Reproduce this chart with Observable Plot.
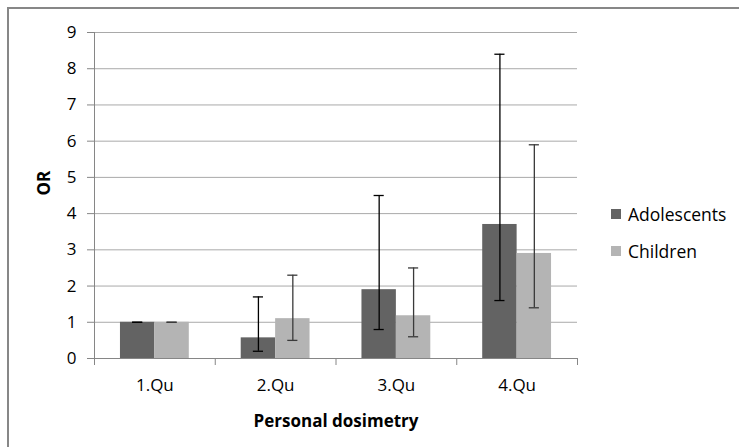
<!DOCTYPE html>
<html>
<head>
<meta charset="utf-8">
<script src="https://cdn.jsdelivr.net/npm/d3@7"></script>
<script src="https://cdn.jsdelivr.net/npm/@observablehq/plot@0.6"></script>
<style>
  html, body { margin: 0; padding: 0; background: #fff; }
  #wrap { position: relative; width: 739px; height: 447px; overflow: hidden; font-family: "Open Sans", sans-serif; }
  #frame { position: absolute; left: 7px; top: 7px; width: 800px; height: 500px; border: 2px solid #878787; box-sizing: border-box; }
  #chart { position: absolute; left: 0; top: 0; }
  #legend { position: absolute; left: 611px; top: 195px; font-size: 17.5px; color: #000; }
  .item { display: flex; align-items: center; height: 37px; }
  .sw { width: 10px; height: 10px; margin-right: 7px; }
</style>
</head>
<body>
<div id="wrap">
  <div id="frame"></div>
  <div id="chart"></div>
  <div id="legend"></div>
</div>
<script>
const categories = ["1.Qu", "2.Qu", "3.Qu", "4.Qu"];
const seriesNames = ["Adolescents", "Children"];
const seriesColors = ["#636363", "#b4b4b4"];
const adolescents = [1.0, 0.57, 1.9, 3.7];
const adolescentsLow = [1.0, 0.2, 0.8, 1.6];
const adolescentsHigh = [1.0, 1.7, 4.5, 8.4];
const children = [1.0, 1.1, 1.18, 2.9];
const childrenLow = [1.0, 0.5, 0.6, 1.4];
const childrenHigh = [1.0, 2.3, 2.5, 5.9];
const yTicks = [0, 1, 2, 3, 4, 5, 6, 7, 8, 9];

const data = categories.flatMap((c, i) => [
  {cat: c, i, k: 0, series: seriesNames[0], value: adolescents[i], low: adolescentsLow[i], high: adolescentsHigh[i]},
  {cat: c, i, k: 1, series: seriesNames[1], value: children[i], low: childrenLow[i], high: childrenHigh[i]}
]);

const groupStart = 0.215, barW = 0.285, capHalf = 0.042;
const left = d => d.i + groupStart + d.k * barW;
const right = d => d.i + groupStart + (d.k + 1) * barW;
const mid = d => d.i + groupStart + (d.k + 0.5) * barW;
const axisGray = "#868686", gridGray = "#a9a9a9";
const errColors = ["#000000", "#3a3a3a"];

const errMarks = seriesNames.flatMap((s, k) => {
  const sub = data.filter(d => d.series === s);
  return [
    Plot.ruleX(sub, {x: mid, y1: "low", y2: "high", stroke: errColors[k], strokeWidth: 1.3}),
    Plot.ruleY(sub, {y: "high", x1: d => mid(d) - capHalf, x2: d => mid(d) + capHalf, stroke: errColors[k], strokeWidth: 1.3}),
    Plot.ruleY(sub, {y: "low", x1: d => mid(d) - capHalf, x2: d => mid(d) + capHalf, stroke: errColors[k], strokeWidth: 1.3})
  ];
});

const chart = Plot.plot({
  width: 739,
  height: 447,
  marginLeft: 94,
  marginRight: 162,
  marginTop: 32,
  marginBottom: 89,
  style: {fontFamily: "Open Sans", fontSize: "17px", color: "#000", background: "transparent"},
  x: {domain: [0, 4]},
  y: {domain: [0, 9]},
  color: {domain: seriesNames, range: seriesColors},
  marks: [
    Plot.gridY(yTicks, {stroke: gridGray, strokeOpacity: 1}),
    Plot.axisY({ticks: yTicks, tickSize: 7, tickPadding: 11, stroke: axisGray, label: null}),
    Plot.rectY(data, {x1: left, x2: right, y: "value", fill: "series"}),
    ...errMarks,
    Plot.ruleX([0], {stroke: axisGray}),
    Plot.ruleY([0], {stroke: axisGray}),
    Plot.axisX({ticks: [0, 1, 2, 3, 4], tickSize: 7, tickFormat: () => "", stroke: axisGray, label: null}),
    Plot.axisX({ticks: categories.map((c, i) => i + 0.5), tickSize: 0, tickPadding: 20, tickFormat: v => categories[Math.floor(v)], label: null}),
    Plot.text(["OR"], {frameAnchor: "left", dx: -50, rotate: -90, fontWeight: "bold", fontSize: 17}),
    Plot.text(["Personal dosimetry"], {frameAnchor: "bottom", dy: 68, fontWeight: "bold", fontSize: 17})
  ]
});
document.getElementById("chart").appendChild(chart);

const legend = document.getElementById("legend");
seriesNames.forEach((s, k) => {
  const item = document.createElement("div");
  item.className = "item";
  const sw = document.createElement("div");
  sw.className = "sw";
  sw.style.background = seriesColors[k];
  const t = document.createElement("span");
  t.textContent = s;
  item.appendChild(sw);
  item.appendChild(t);
  legend.appendChild(item);
});
</script>
</body>
</html>
